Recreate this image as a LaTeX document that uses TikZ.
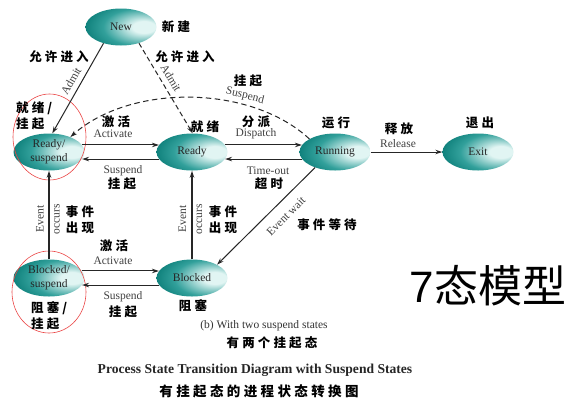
\documentclass[tikz,border=0pt]{standalone}
\usepackage{fontspec}
\setmainfont{Liberation Serif}
\newfontfamily\cjk{Noto Sans CJK SC}[LetterSpace=25]
\newfontfamily\cjkbig{Noto Sans CJK SC}
\newfontfamily\arialf{Liberation Sans}
\usetikzlibrary{shapes.geometric,arrows.meta}
\definecolor{tealD}{RGB}{0,115,110}
\definecolor{tealM}{RGB}{50,160,155}
\definecolor{tealL}{RGB}{225,245,243}
\definecolor{circred}{RGB}{235,70,70}
\pgfdeclareradialshading{stateshade}{\pgfpoint{18bp}{0bp}}{color(0bp)=(tealL); color(8bp)=(tealL); color(25bp)=(tealM); color(40bp)=(tealD); color(80bp)=(tealD)}
\tikzset{
  state/.style={ellipse, minimum width=71pt, minimum height=37pt, inner sep=0pt,
    shade, shading=stateshade, text=black!85, align=center,
    font=\fontsize{11.5}{14}\selectfont},
  edge/.style={-{Stealth[length=7pt,width=4.5pt]}, line width=1pt, draw=black!85},
  vedge/.style={edge, line width=1.7pt},
  en/.style={font=\fontsize{11.5}{16}\selectfont, text=black!75, inner sep=0pt, align=center},
  zh/.style={font=\cjk\bfseries\fontsize{12.5}{16}\selectfont, inner sep=0pt, align=center},
  zhl/.style={zh, align=left, anchor=west},
  redring/.style={ellipse, draw=circred, line width=0.6pt, inner sep=0pt}
}
\begin{document}
\begin{tikzpicture}[x=1pt,y=-1pt]
\useasboundingbox[fill=white] (0,0) rectangle (585,405);
% states
\node[state] (new) at (121,27) {New};
\node[state] (rs) at (49,152) {Ready/\\suspend};
\node[state] (rd) at (192,152) {Ready};
\node[state] (run) at (335,152) {Running};
\node[state] (ex) at (478,152) {Exit};
\node[state] (bs) at (49,278) {Blocked/\\suspend};
\node[state] (bl) at (192,278) {Blocked};
% highlight rings
\node[redring, minimum width=73pt, minimum height=86pt] (ring1) at (49.5,137) {};
\node[redring, minimum width=74pt, minimum height=82pt] (ring2) at (49,292) {};
% transitions
\draw[edge] (new.-137) -- (rs.80);
\draw[edge, dash pattern=on 5pt off 3pt] (new.-42) -- (rd.88);
\draw[edge, dash pattern=on 5.5pt off 3.5pt] (run.153) .. controls (250,84) and (130,84) .. (rs.35);
\draw[edge] (rs.12) -- (rd.168);
\draw[edge] (rd.-168) -- (rs.-12);
\draw[edge] (rd.12) -- (run.168);
\draw[edge] (run.-168) -- (rd.-12);
\draw[edge] (run) -- (ex);
\draw[vedge] (bs) -- (rs);
\draw[vedge] (bl) -- (rd);
\draw[edge] (run.-142) -- (bl.28);
\draw[edge] (bs.12) -- (bl.168);
\draw[edge] (bl.-168) -- (bs.-12);
% English labels
\node[en, rotate=60] (lAdmit1) at (71,81) {Admit};
\node[en, rotate=-59] (lAdmit2) at (171,78) {Admit};
\node[en, rotate=-14] (lSusp0) at (245,96) {Suspend};
\node[en] (lAct1) at (113,134) {Activate};
\node[en] (lSusp1) at (123,171) {Suspend};
\node[en] (lDisp) at (256,134) {Dispatch};
\node[en] (lTime) at (268,171) {Time-out};
\node[en] (lRel) at (398,144) {Release};
\node[en, rotate=90] (lEv1) at (48,219) {Event\\occurs};
\node[en, rotate=90] (lEv2) at (190.5,219) {Event\\occurs};
\node[en, rotate=45] (lWait) at (286,216) {Event wait};
\node[en] (lAct2) at (113,261) {Activate};
\node[en] (lSusp2) at (123,297) {Suspend};
% Chinese labels
\node[zh] (zNew) at (176,27) {新建};
\node[zh] (zAdm1) at (59,57) {允许进入};
\node[zh] (zAdm2) at (185,57) {允许进入};
\node[zh] (zSusp0) at (248,81) {挂起};
\node[zhl] (zRS) at (16,116) {就绪/\\挂起};
\node[zh] (zAct1) at (116,122) {激活};
\node[zh] (zRd) at (205,127) {就绪};
\node[zh] (zDisp) at (256,122) {分派};
\node[zh] (zRun) at (336,123) {运行};
\node[zh] (zRel) at (399,129) {释放};
\node[zh] (zEx) at (480,123) {退出};
\node[zh] (zSusp1) at (122,184) {挂起};
\node[zh] (zTime) at (269,184) {超时};
\node[zh] (zEv1) at (80,220) {事件\\出现};
\node[zh] (zEv2) at (223,220) {事件\\出现};
\node[zh] (zWait) at (327,225) {事件等待};
\node[zh] (zAct2) at (114,246) {激活};
\node[zh] (zSusp2) at (123,312) {挂起};
\node[zh] (zBl) at (193,306) {阻塞};
\node[zhl] (zBS) at (31,316) {阻塞/\\挂起};
% captions
\node[en, text=black!80] (capb) at (264,326) {(b) With two suspend states};
\node[zh] (capbz) at (272,343) {有两个挂起态};
\node[font=\bfseries\fontsize{13.6}{15}\selectfont, text=black!85, inner sep=0pt] (cap) at (255,370) {Process State Transition Diagram with Suspend States};
\node[zh, font=\cjk\bfseries\fontsize{13.5}{16}\selectfont] (capz) at (259,391) {有挂起态的进程状态转换图};
\node[inner sep=0pt, font=\fontsize{44}{48}\selectfont] (big) at (488,286) {\arialf 7\cjkbig 态模型};
\end{tikzpicture}
\end{document}
